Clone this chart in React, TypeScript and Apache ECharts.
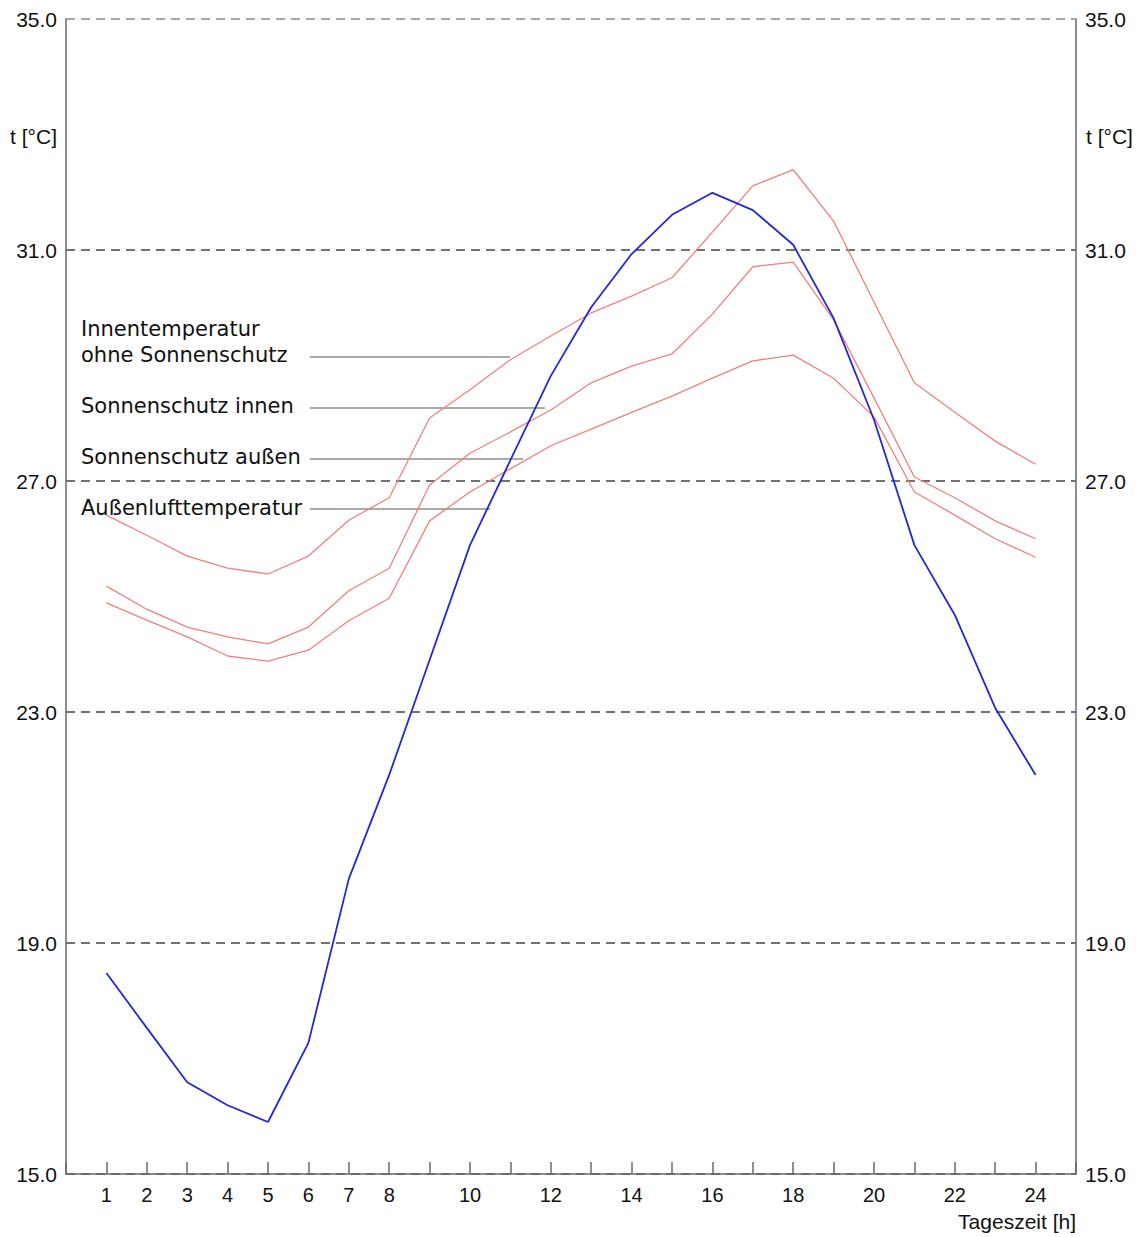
import React, { useEffect, useRef } from "react";
import * as echarts from "echarts";

const hours = [1, 2, 3, 4, 5, 6, 7, 8, 9, 10, 11, 12, 13, 14, 15, 16, 17, 18, 19, 20, 21, 22, 23, 24];
const aussenluft = [18.48, 17.53, 16.59, 16.19, 15.9, 17.27, 20.11, 21.91, 23.9, 25.89, 27.36, 28.82, 30.01, 30.93, 31.61, 31.99, 31.69, 31.09, 29.82, 28.06, 25.89, 24.68, 23.07, 21.91];
const ohneSonnenschutz = [26.41, 26.06, 25.7, 25.49, 25.39, 25.7, 26.32, 26.71, 28.09, 28.58, 29.1, 29.51, 29.91, 30.2, 30.52, 31.31, 32.11, 32.39, 31.5, 30.1, 28.7, 28.19, 27.69, 27.29];
const schutzInnen = [25.18, 24.78, 24.47, 24.3, 24.18, 24.47, 25.1, 25.49, 26.93, 27.48, 27.85, 28.23, 28.7, 28.99, 29.2, 29.89, 30.71, 30.79, 29.79, 28.44, 27.07, 26.71, 26.31, 26.0];
const schutzAussen = [24.89, 24.59, 24.3, 23.97, 23.88, 24.07, 24.58, 24.97, 26.31, 26.81, 27.21, 27.61, 27.9, 28.19, 28.47, 28.78, 29.08, 29.18, 28.78, 28.11, 26.81, 26.41, 26.0, 25.68];

const yTicks = [15, 19, 23, 27, 31, 35];
const xLabelTicks = [1, 2, 3, 4, 5, 6, 7, 8, 10, 12, 14, 16, 18, 20, 22, 24];
const legendLabels = ["Innentemperatur", "ohne Sonnenschutz", "Sonnenschutz innen", "Sonnenschutz außen", "Außenlufttemperatur"];
const yTitle = "t [°C]";
const xTitle = "Tageszeit [h]";

const pair = (vals: number[]) => hours.map((h, i) => [h, vals[i]]);

export default function App() {
  const ref = useRef<HTMLDivElement>(null);
  useEffect(() => {
    if (!ref.current) return;
    const chart = echarts.init(ref.current, null, { renderer: "svg" });
    const axisFont = "'Liberation Sans', Arial, sans-serif";
    const labFont = "'DejaVu Sans', Verdana, sans-serif";
    const labelStyle = { fill: "#111", font: `21px ${labFont}` };
    const grey = "#aaaaaa";
    const yAxisCommon = {
      type: "value",
      min: 15,
      max: 35,
      interval: 4,
      axisLine: { show: true, lineStyle: { color: "#6a6a6a", width: 1.5 } },
      axisTick: { show: false },
      axisLabel: {
        fontFamily: axisFont,
        fontSize: 21,
        color: "#111",
        formatter: (v: number) => (yTicks.includes(v) ? v.toFixed(1) : ""),
      },
    };
    chart.setOption({
      animation: false,
      backgroundColor: "#ffffff",
      grid: { left: 66, right: 62, top: 19, bottom: 63, containLabel: false },
      xAxis: {
        type: "value",
        min: 0,
        max: 25,
        interval: 1,
        axisLine: { show: true, lineStyle: { color: "#6a6a6a", width: 1.5 } },
        axisTick: { show: true, inside: true, length: 12, lineStyle: { color: "#6a6a6a", width: 1.5 } },
        splitLine: { show: false },
        axisLabel: {
          fontFamily: axisFont,
          fontSize: 20,
          color: "#111",
          margin: 11,
          showMinLabel: true,
          showMaxLabel: true,
          formatter: (v: number) => (xLabelTicks.includes(v) ? String(v) : ""),
        },
      },
      yAxis: [
        {
          ...yAxisCommon,
          position: "left",
          axisLabel: { ...yAxisCommon.axisLabel, margin: 9 },
          splitLine: {
            show: true,
            lineStyle: {
              color: ["#444", "#444", "#444", "#444", "#444", "#8a8a8a"],
              width: 1.5,
              type: [9, 6],
            },
          },
        },
        {
          ...yAxisCommon,
          position: "right",
          axisLabel: { ...yAxisCommon.axisLabel, margin: 9 },
          splitLine: { show: false },
        },
      ],
      series: [
        { type: "line", data: pair(ohneSonnenschutz), symbol: "none", lineStyle: { color: "#ee8080", width: 1.3 } },
        { type: "line", data: pair(schutzInnen), symbol: "none", lineStyle: { color: "#ee8080", width: 1.3 } },
        { type: "line", data: pair(schutzAussen), symbol: "none", lineStyle: { color: "#ee8080", width: 1.3 } },
        { type: "line", data: pair(aussenluft), symbol: "none", lineStyle: { color: "#2626d9", width: 1.8 } },
      ],
      graphic: [
        { type: "text", x: 57, y: 136, style: { text: yTitle, fill: "#111", font: `21px ${axisFont}`, textAlign: "right", textVerticalAlign: "middle" } },
        { type: "text", x: 1086, y: 136, style: { text: yTitle, fill: "#111", font: `21px ${axisFont}`, textAlign: "left", textVerticalAlign: "middle" } },
        { type: "text", x: 1076, y: 1221, style: { text: xTitle, fill: "#111", font: `21px ${axisFont}`, textAlign: "right", textVerticalAlign: "middle" } },
        { type: "text", x: 81, y: 329, style: { ...labelStyle, text: legendLabels[0], textVerticalAlign: "middle" } },
        { type: "text", x: 81, y: 355, style: { ...labelStyle, text: legendLabels[1], textVerticalAlign: "middle" } },
        { type: "text", x: 81, y: 406, style: { ...labelStyle, text: legendLabels[2], textVerticalAlign: "middle" } },
        { type: "text", x: 81, y: 457, style: { ...labelStyle, text: legendLabels[3], textVerticalAlign: "middle" } },
        { type: "text", x: 81, y: 508, style: { ...labelStyle, text: legendLabels[4], textVerticalAlign: "middle" } },
        { type: "line", shape: { x1: 310, y1: 357, x2: 510, y2: 357 }, style: { stroke: grey, lineWidth: 2 } },
        { type: "line", shape: { x1: 310, y1: 408, x2: 545, y2: 408 }, style: { stroke: grey, lineWidth: 2 } },
        { type: "line", shape: { x1: 310, y1: 459, x2: 523, y2: 459 }, style: { stroke: grey, lineWidth: 2 } },
        { type: "line", shape: { x1: 310, y1: 509, x2: 490, y2: 509 }, style: { stroke: grey, lineWidth: 2 } },
      ],
    });
    return () => chart.dispose();
  }, []);
  return (
    <div
      ref={ref}
      style={{ position: "fixed", left: 0, top: 0, width: 1138, height: 1237, background: "#fff" }}
    />
  );
}
